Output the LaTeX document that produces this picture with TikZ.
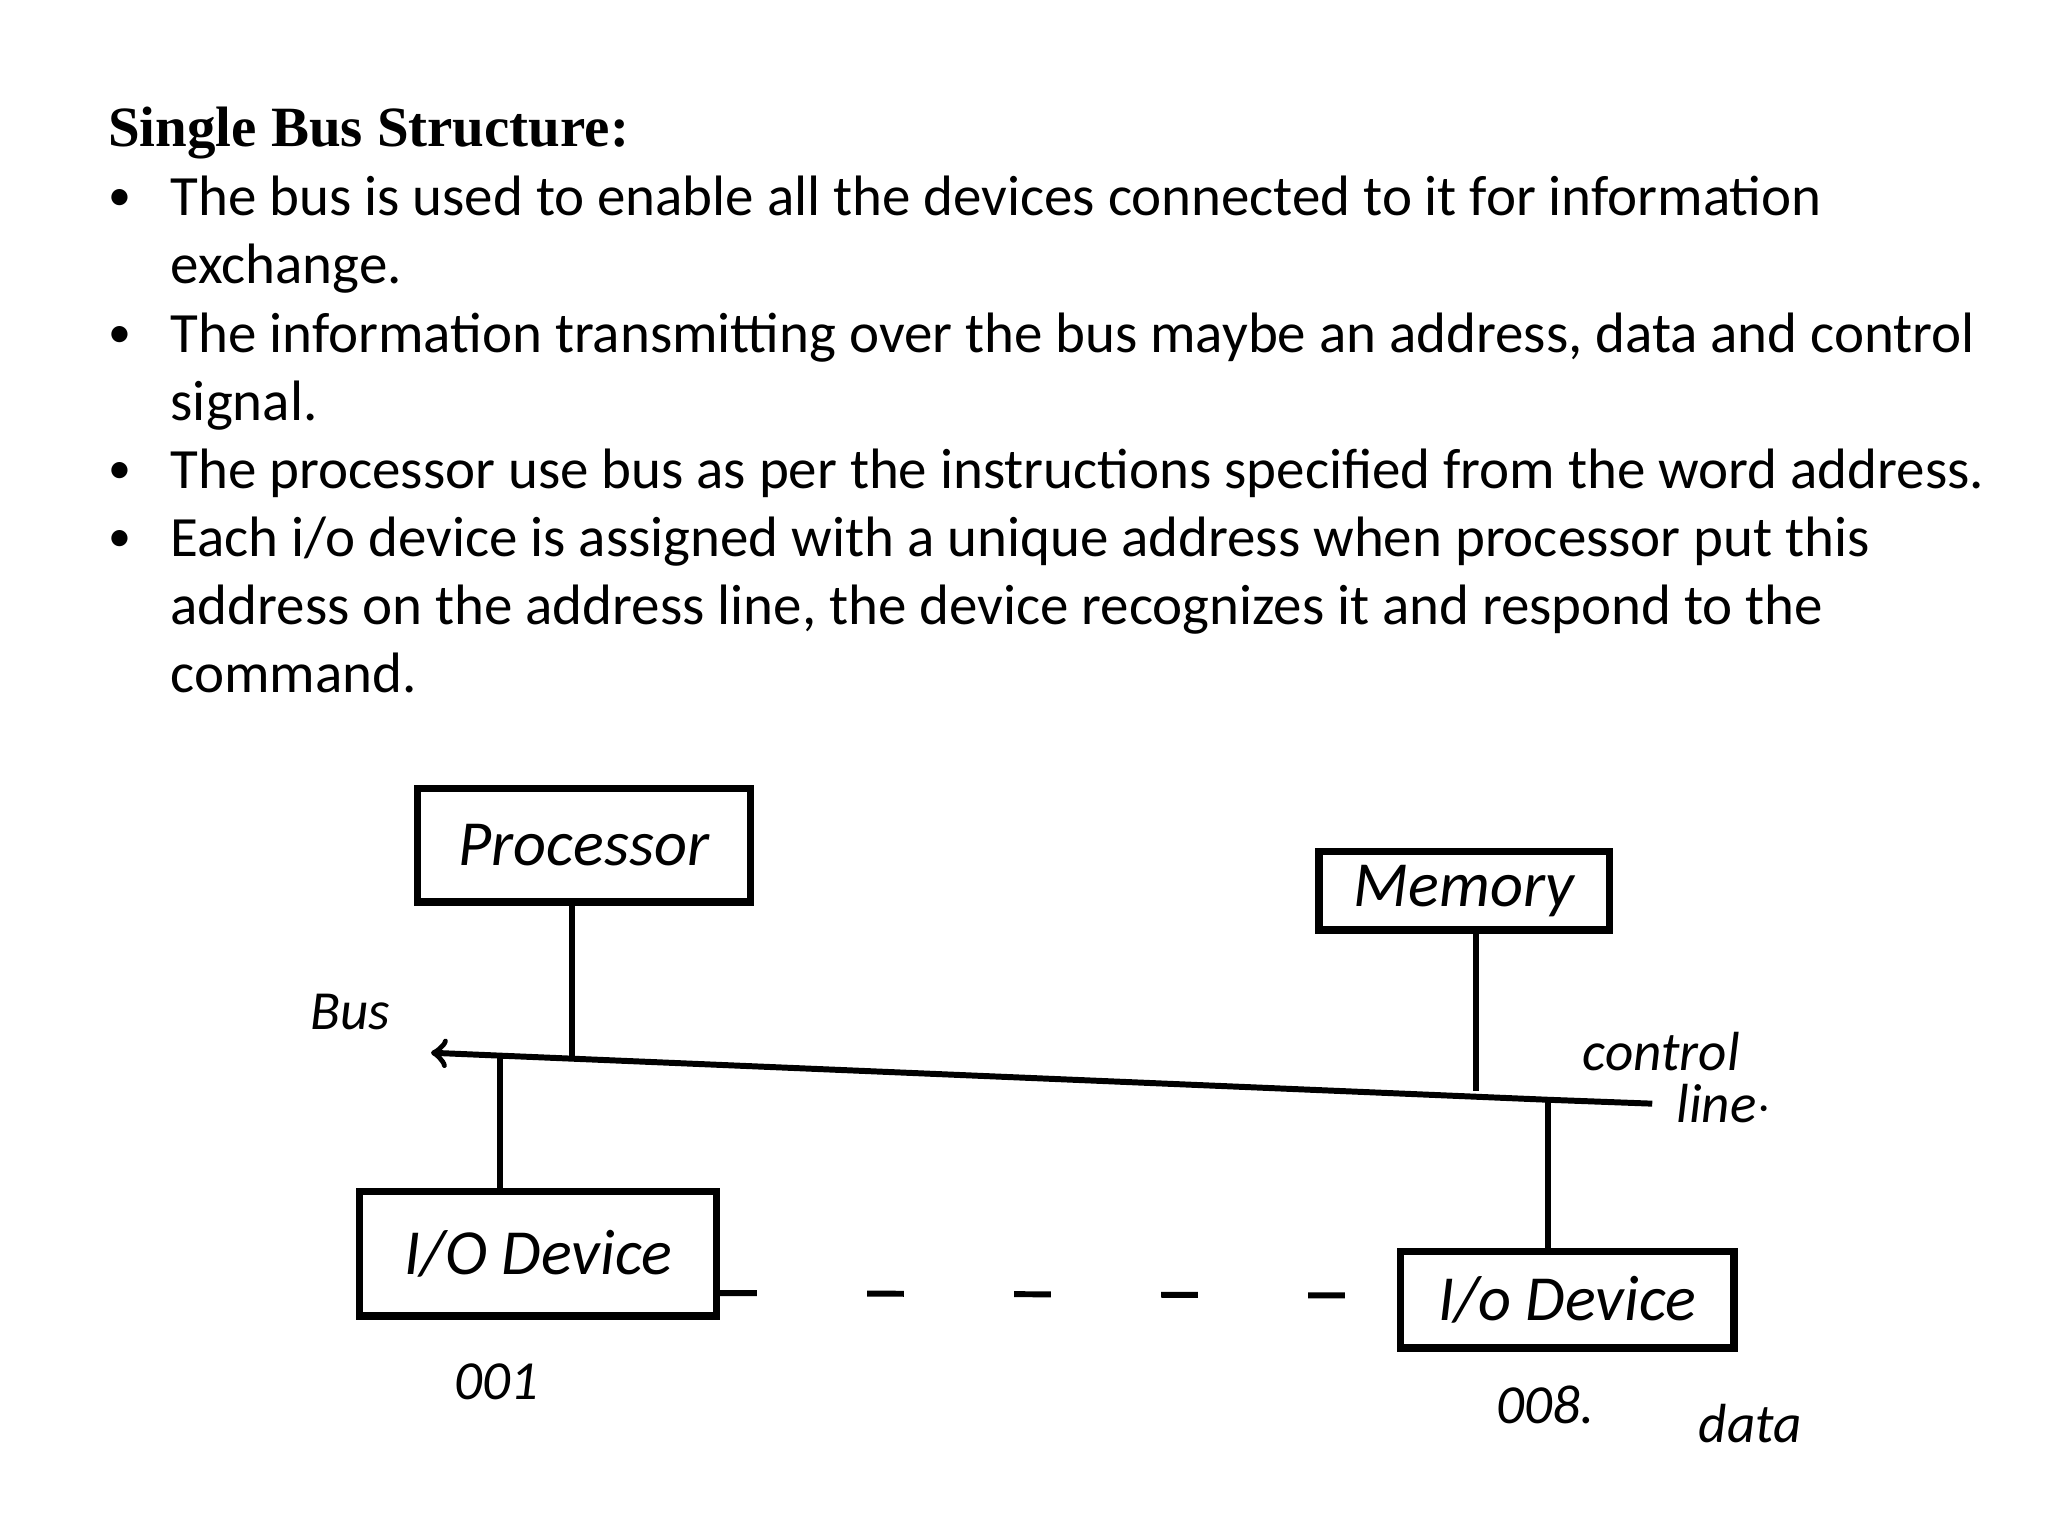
\documentclass[tikz,border=0pt]{standalone}
\usepackage{fontspec}
\setmainfont{Carlito}
\newfontfamily\titlefont{Liberation Serif}
\begin{document}
\begin{tikzpicture}[x=0.01cm,y=-0.01cm,
  body/.style={anchor=base west,inner sep=0pt,font=\fontsize{12.4pt}{15pt}\selectfont},
  bul/.style={anchor=base west,inner sep=0pt,font=\fontsize{10pt}{12pt}\selectfont},
  boxn/.style={draw,line width=1.6pt,inner sep=0pt,font=\itshape\fontsize{14pt}{16pt}\selectfont},
  hand/.style={inner sep=0pt,font=\itshape\fontsize{12pt}{14pt}\selectfont},
  wire/.style={line width=1.3pt}]
\useasboundingbox (0,0) rectangle (1568,1176);
\node[anchor=base west,inner sep=0pt,font=\titlefont\bfseries\fontsize{12.4pt}{15pt}\selectfont] (t) at (82,112) {Single Bus Structure:};
\foreach \y in {161,266,370,422} {\node[bul] at (82,\y) {•};}
\node[body] (l1) at (130,165) {The bus is used to enable all the devices connected to it for information};
\node[body] (l2) at (130,217) {exchange.};
\node[body] (l3) at (130,270) {The information transmitting over the bus maybe an address, data and control};
\node[body] (l4) at (130,322) {signal.};
\node[body] (l5) at (130,374) {The processor use bus as per the instructions specified from the word address.};
\node[body] (l6) at (130,426) {Each i/o device is assigned with a unique address when processor put this};
\node[body] (l7) at (130,478) {address on the address line, the device recognizes it and respond to the};
\node[body] (l8) at (130,530) {command.};
% boxes
\node[boxn,minimum width=2.55cm,minimum height=0.87cm] (p) at (447,647) {Processor};
\node[boxn,minimum width=2.22cm,minimum height=0.60cm] (m) at (1121,682) {Memory};
\node[boxn,minimum width=2.73cm,minimum height=0.95cm] (d1) at (412,960) {I/O Device};
\node[boxn,minimum width=2.55cm,minimum height=0.74cm] (d2) at (1200,995) {I/o Device};
% bus
\coordinate (bl) at (330,806);
\coordinate (bj) at (1185,842);
\coordinate (br) at (1265,845);
\coordinate (pb) at (438,810.5);
\coordinate (mb) at (1130,835);
\coordinate (d1b) at (383,810);
\draw[wire,<-] (bl) -- (bj) -- (br);
\draw[wire] (p.south -| pb) -- (pb);
\draw[wire] (m.south -| mb) -- (mb);
\draw[wire] (d1b) -- (d1.north -| d1b);
\draw[wire] (bj) -- (d2.north -| bj);
\draw[wire,dash pattern=on 8pt off 24pt] (d1.east |- 0,990) -- (d2.west |- 0,992);
% labels
\node[hand] (bus) at (268,775) {Bus};
\node[hand] (ctl) at (1272,805) {control};
\node[hand] (ln) at (1320,845) {line$\cdot$};
\node[hand] (a1) at (380,1058) {001};
\node[hand] (a2) at (1183,1076) {008.};
\node[hand] (dt) at (1340,1090) {data};
\end{tikzpicture}
\end{document}
